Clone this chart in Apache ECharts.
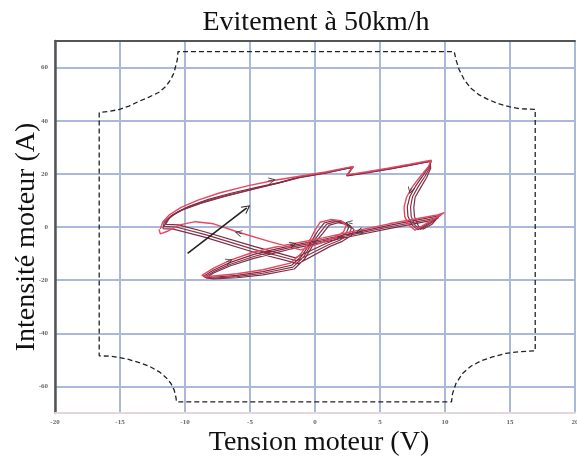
<!DOCTYPE html>
<html>
<head>
<meta charset="utf-8">
<script src="https://cdn.jsdelivr.net/npm/echarts/dist/echarts.min.js"></script>
<style>
  html, body { margin: 0; padding: 0; background: #fff; }
  #chart { width: 577px; height: 457px; }
</style>
</head>
<body>
<div id="chart"></div>
<script>
// limites tension / courant (pointillés)
var boundary = [
  [-16.6, 43.1], [-16.6, -48.5],
  [-15.83, -48.6], [-15.06, -49.1], [-14.29, -49.9], [-13.52, -51.0], [-12.75, -52.4], [-11.98, -54.5],
  [-11.47, -56.6], [-11.08, -58.9], [-10.83, -61.4], [-10.7, -64.0], [-10.65, -65.8],
  [10.5, -65.8],
  [10.58, -62.7], [10.84, -58.9], [11.35, -55.1], [11.99, -52.4], [12.76, -50.4], [13.65, -48.9],
  [14.68, -47.6], [15.71, -46.9], [16.94, -46.6],
  [16.94, 44.3],
  [15.71, 44.5], [14.94, 45.3], [14.17, 46.3], [13.4, 47.8], [12.63, 49.7], [11.99, 52.2],
  [11.48, 55.4], [11.09, 59.2], [10.84, 63.0], [10.71, 66.0],
  [-10.54, 66.0],
  [-10.59, 63.0], [-10.72, 60.5], [-10.85, 58.0], [-11.1, 55.5], [-11.48, 52.9], [-12.0, 50.7],
  [-12.77, 48.9], [-13.54, 47.3], [-14.31, 45.5], [-15.08, 44.2], [-15.85, 43.5], [-16.6, 43.1]
];

// cycle principal (rouge clair)
var strandRed = [
  [-11.9, -0.8], [-11.7, 2.0], [-11.2, 4.6], [-10.3, 7.4], [-9.0, 10.1], [-7.3, 12.9], [-5.2, 15.5],
  [-3.2, 17.5], [-1.2, 19.1], [0.8, 20.7], [2.95, 22.8], [2.45, 19.6], [4.0, 20.8], [5.6, 22.1],
  [7.3, 23.6], [8.95, 25.1],
  [8.7, 22.6], [8.1, 19.0], [7.5, 15.2], [7.05, 11.3], [6.85, 7.5], [6.9, 4.0], [7.2, 0.8], [7.7, -1.2],
  [8.8, 2.0], [9.95, 5.4],
  [9.3, 4.4], [5.7, 1.2], [3.1, -1.5], [0.6, -4.1], [-1.8, -6.4],
  [-3.2, -7.7], [-4.7, -9.4], [-6.5, -12.5], [-7.8, -15.5], [-8.7, -18.2],
  [-8.4, -18.7], [-6.0, -17.6], [-4.0, -16.1], [-1.9, -13.6],
  [-1.1, -10.2], [-0.4, -5.0], [0.0, -1.2], [0.4, 1.8],
  [1.2, 2.8], [2.0, 2.4], [2.4, 0.6], [2.2, -1.8], [1.5, -4.0], [0.6, -5.8],
  [-1.1, -8.6], [-3.4, -5.6], [-6.0, -1.8], [-7.8, 1.2], [-9.2, 2.0], [-10.4, 0.8], [-11.3, -1.5],
  [-11.9, -2.6], [-12.0, -0.8]
];

// cycles suivants (rouge foncé)
var strandDark1 = [
  [-11.5, 1.0], [-11.2, 3.3], [-10.6, 5.6], [-9.6, 8.0], [-8.2, 10.4], [-6.4, 12.8], [-4.4, 15.0],
  [-2.6, 16.9], [-1.2, 18.9], [0.8, 20.5], [2.95, 22.6], [2.45, 19.4], [4.0, 20.6], [5.6, 21.9],
  [7.3, 23.4], [8.95, 24.9],
  [8.8, 22.8], [8.3, 19.3], [7.75, 15.5], [7.3, 11.5], [7.1, 7.6], [7.15, 4.0], [7.45, 0.8], [7.9, -1.0],
  [8.8, 1.6], [9.7, 4.5],
  [9.0, 3.7], [5.7, 0.6], [3.1, -2.1], [0.6, -4.7], [-1.8, -7.0],
  [-3.2, -8.5], [-4.7, -10.3], [-6.5, -13.3], [-7.8, -16.2], [-8.6, -18.6],
  [-8.2, -19.0], [-6.0, -18.2], [-4.0, -16.8], [-1.8, -14.4],
  [-1.0, -10.8], [-0.3, -5.6], [0.2, -1.6], [0.7, 1.5],
  [1.4, 2.4], [2.2, 1.8], [2.6, 0.0], [2.4, -2.3], [1.7, -4.5], [0.8, -6.3],
  [-1.5, -11.6], [-4.7, -7.3], [-8.5, -1.8], [-10.5, 0.8], [-11.5, 1.0]
];
var strandDark2 = [
  [-11.6, 0.2], [-11.4, 2.6], [-10.9, 4.8], [-9.9, 7.2], [-8.5, 9.6], [-6.7, 12.0], [-4.6, 14.5],
  [-2.8, 16.6], [-1.2, 18.7], [0.8, 20.4], [2.9, 22.5], [2.45, 19.3], [4.0, 20.5], [5.6, 21.8],
  [7.3, 23.3], [8.9, 24.8],
  [8.85, 22.5], [8.45, 19.0], [7.95, 15.3], [7.5, 11.4], [7.35, 7.5], [7.4, 4.0], [7.7, 0.6], [8.1, -0.9],
  [8.9, 1.4], [9.5, 3.6],
  [8.8, 2.9], [5.7, 0.0], [3.1, -2.6], [0.6, -5.2], [-1.8, -7.6],
  [-3.2, -9.2], [-4.7, -11.1], [-6.5, -14.0], [-7.8, -16.8], [-8.5, -18.9],
  [-8.0, -19.3], [-6.0, -18.7], [-4.0, -17.4], [-1.7, -15.1],
  [-0.9, -11.4], [-0.2, -6.0], [0.4, -2.0], [0.9, 1.1],
  [1.6, 2.0], [2.4, 1.3], [2.8, -0.5], [2.6, -2.8], [1.9, -5.0], [1.0, -6.8],
  [-1.4, -12.7], [-4.7, -8.4], [-8.5, -2.8], [-10.7, 0.0], [-11.6, 0.2]
];
var strandDark3 = [
  [-11.7, -0.6], [-11.6, 1.8], [-11.1, 4.1], [-10.2, 6.4], [-8.8, 8.9], [-7.0, 11.4], [-4.8, 14.1],
  [-3.0, 16.3], [-1.2, 18.6], [0.8, 20.3], [2.85, 22.4], [2.45, 19.2], [4.0, 20.4], [5.6, 21.7],
  [7.3, 23.2], [8.85, 24.7],
  [8.9, 22.2], [8.6, 18.7], [8.15, 15.0], [7.7, 11.2], [7.6, 7.4], [7.65, 4.0], [7.95, 0.4], [8.3, -0.8],
  [9.0, 1.0], [9.3, 2.8],
  [8.6, 2.1], [5.7, -0.6], [3.1, -3.2], [0.6, -5.8], [-1.8, -8.2],
  [-3.2, -9.9], [-4.7, -11.8], [-6.5, -14.6], [-7.8, -17.3], [-8.4, -19.2],
  [-7.8, -19.5], [-6.0, -19.1], [-4.0, -18.0], [-1.6, -15.8],
  [-0.8, -12.0], [-0.1, -6.4], [0.6, -2.4], [1.1, 0.7],
  [1.8, 1.6], [2.6, 0.8], [3.0, -1.0], [2.8, -3.2], [2.1, -5.4], [1.2, -7.2],
  [-1.3, -13.8], [-4.7, -9.5], [-8.5, -3.8], [-10.9, -0.8], [-11.7, -0.6]
];

// petites flèches de sens de parcours : [départ, arrivée]
var arrowSegs = [
  [[-3.6, 17.3], [-3.3, 17.6]],
  [[7.4, 14.6], [7.35, 13.7]],
  [[3.7, -1.3], [3.4, -1.7]],
  [[2.9, 1.2], [2.6, 1.5]],
  [[-5.6, -2.6], [-5.9, -2.2]],
  [[-6.8, -13.1], [-6.6, -12.7]],
  [[-1.9, -6.8], [-1.7, -6.5]]
];
// grande flèche noire
var bigArrow = [[-9.8, -9.9], [-5.25, 7.2]];

var xTicks = [-20, 20, 5];
var yTicks = [-70, 70, 10];
var yLabelStep = 20;

var chevron = 'path://M0,10 L5,0 L10,10 L9,10.6 L5,2.6 L1,10.6 Z';

var chart = echarts.init(document.getElementById('chart'));

function strand(data, color, width) {
  return {
    type: 'line',
    data: data,
    showSymbol: false,
    symbol: 'none',
    smooth: false,
    lineStyle: { color: color, width: width },
    silent: true,
    z: 3
  };
}

var labelStyle = {
  fontFamily: 'Liberation Serif',
  fontWeight: 'bold',
  fontSize: 7,
  color: '#666'
};

chart.setOption({
  backgroundColor: '#ffffff',
  animation: false,
  graphic: [{
    type: 'text',
    x: 316,
    y: 9,
    style: {
      text: 'Evitement à 50km/h',
      font: '28px "Liberation Serif"',
      fill: '#111',
      align: 'center'
    }
  }, {
    type: 'text',
    x: 27,
    y: 237,
    rotation: Math.PI / 2,
    style: {
      text: 'Intensité moteur (A)',
      font: '28px "Liberation Serif"',
      fill: '#111',
      align: 'center',
      verticalAlign: 'middle'
    }
  }],
  grid: { left: 55, right: 2, top: 41, bottom: 44, outerBoundsMode: 'none' },
  xAxis: [{
    type: 'value',
    min: xTicks[0], max: xTicks[1], interval: xTicks[2],
    name: 'Tension moteur (V)',
    nameLocation: 'middle',
    nameGap: 16,
    nameMoveOverlap: false,
    nameTextStyle: { fontFamily: 'Liberation Serif', fontSize: 28, color: '#111', verticalAlign: 'top', padding: [0, 0, 0, 8] },
    axisLine: { onZero: false, lineStyle: { color: '#e4d7d7', width: 2 } },
    axisTick: { show: false },
    axisLabel: Object.assign({ margin: 6 }, labelStyle),
    splitLine: { lineStyle: { color: '#a9b9d7', width: 2 } }
  }, {
    type: 'value',
    position: 'top',
    min: xTicks[0], max: xTicks[1], interval: xTicks[2],
    axisLine: { onZero: false, lineStyle: { color: '#555', width: 2 } },
    axisTick: { show: false },
    axisLabel: { show: false },
    splitLine: { show: false }
  }],
  yAxis: {
    type: 'value',
    min: yTicks[0], max: yTicks[1], interval: yTicks[2],
    axisLine: { show: true, onZero: false, lineStyle: { color: '#555', width: 2.5 } },
    axisTick: { show: false },
    axisLabel: Object.assign({
      margin: 7,
      formatter: function (v) { return v % yLabelStep === 0 ? String(v) : ''; }
    }, labelStyle),
    splitLine: { lineStyle: { color: ['rgba(0,0,0,0)', '#a9b9d7'], width: 2 } }
  },
  series: [
    {
      type: 'line',
      data: boundary,
      showSymbol: false,
      symbol: 'none',
      lineStyle: { color: '#222', width: 1.3, type: [5, 3] },
      silent: true,
      z: 2
    },
    strand(strandDark3, '#7e2f45', 1.2),
    strand(strandDark2, '#8a3349', 1.2),
    strand(strandDark1, '#7a2c42', 1.2),
    strand(strandRed, '#e8475f', 1.4),
    {
      type: 'lines',
      coordinateSystem: 'cartesian2d',
      data: arrowSegs.map(function (s) { return { coords: s }; }),
      symbol: ['none', chevron],
      symbolSize: [9, 7],
      lineStyle: { color: '#333', width: 0.8, opacity: 1 },
      silent: true,
      z: 5
    },
    {
      type: 'lines',
      coordinateSystem: 'cartesian2d',
      data: [{ coords: bigArrow }],
      symbol: ['none', chevron],
      symbolSize: [10, 9],
      lineStyle: { color: '#222', width: 1.6, opacity: 1 },
      silent: true,
      z: 5
    }
  ]
});
</script>
</body>
</html>
